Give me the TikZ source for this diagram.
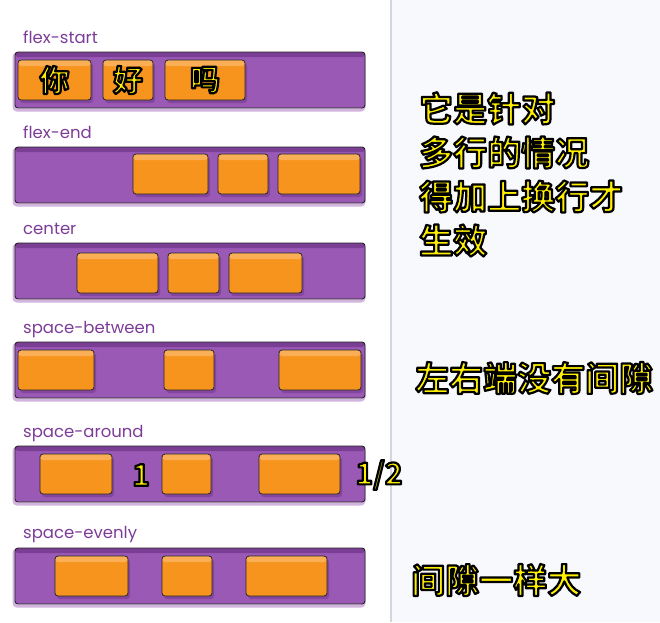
\documentclass[tikz,border=0pt]{standalone}
\usepackage{fontspec}
\setmainfont{Poppins}
\newfontfamily\cjk[BoldFont={Noto Sans CJK SC Bold}]{Noto Sans CJK SC}
\usetikzlibrary{calc}

\definecolor{barpurple}{HTML}{9B59B6}
\definecolor{bardark}{HTML}{7A3E94}
\definecolor{labelpurple}{HTML}{7D3C98}
\definecolor{itemorange}{HTML}{F7941D}
\definecolor{itemlight}{HTML}{FAAE55}
\definecolor{notebg}{HTML}{F8F9FC}
\definecolor{noteline}{HTML}{D3D6DE}
\definecolor{noteyellow}{HTML}{FFF000}

\tikzset{
  flexbar/.style={draw=black!85, line width=0.9pt, fill=barpurple, rounded corners=3pt,
    minimum width=350pt, minimum height=56pt, inner sep=0pt,
    preaction={draw=barpurple!75, line width=3pt, opacity=0.6,
      transform canvas={shift={(-1pt,-2pt)}}},
    path picture={\fill[bardark] (path picture bounding box.north west)
      rectangle ([yshift=-5pt]path picture bounding box.north east);}},
  flexitem/.style={draw=black!85, line width=0.8pt, fill=itemorange, rounded corners=3pt,
    minimum height=40pt, inner sep=0pt,
    preaction={fill=bardark, opacity=0.7, transform canvas={shift={(2pt,-3pt)}}},
    path picture={\fill[itemlight] (path picture bounding box.north west)
      rectangle ([yshift=-6pt]path picture bounding box.north east);}},
  flexlabel/.style={text=labelpurple, font=\fontsize{16.5}{16.5}\selectfont, inner sep=0pt},
  yellowtext/.style={text=noteyellow, inner sep=0pt}
}
\def\barnode{\node[flexbar]}
\def\itemnode{\node[flexitem]}
% yellow letters with a black rim (fill and stroke in one go)
\newcommand{\hl}[1]{\special{pdf:literal 2 Tr 2.2 w 1 j 0 0 0 RG}#1\special{pdf:literal 0 Tr}}

\begin{document}
\begin{tikzpicture}[x=1pt,y=-1pt]
\useasboundingbox (0,0) rectangle (660,622);
\fill[white] (0,0) rectangle (391,622);
\fill[notebg] (391,0) rectangle (660,622);
\draw[noteline, line width=1.2pt] (391,0) -- (391,622);

% -------- flex-start ---------
\node[flexlabel, anchor=base west] (lblstart) at (23,43) {flex-start};
\barnode (barstart) at (190,80) {};
\itemnode[minimum width=73pt] (s1) at (54.5,80) {};
\itemnode[minimum width=50pt] (s2) at (128,80) {};
\itemnode[minimum width=80pt] (s3) at (205,80) {};
\node[yellowtext, font=\cjk\bfseries\fontsize{30}{30}\selectfont] at (s1) {\hl{你}};
\node[yellowtext, font=\cjk\bfseries\fontsize{30}{30}\selectfont] at (s2) {\hl{好}};
\node[yellowtext, font=\cjk\bfseries\fontsize{30}{30}\selectfont] at (s3) {\hl{吗}};

% -------- flex-end ---------
\node[flexlabel, anchor=base west] (lblend) at (23,138) {flex-end};
\barnode (barend) at (190,175) {};
\itemnode[minimum width=75pt] (e1) at (170.5,174) {};
\itemnode[minimum width=50pt] (e2) at (243,174) {};
\itemnode[minimum width=82pt] (e3) at (319,174) {};

% -------- center ---------
\node[flexlabel, anchor=base west] (lblcenter) at (23,234) {center};
\barnode (barcenter) at (190,271) {};
\itemnode[minimum width=81pt] (c1) at (117.5,273) {};
\itemnode[minimum width=51pt] (c2) at (193.5,273) {};
\itemnode[minimum width=73pt] (c3) at (265.5,273) {};

% -------- space-between ---------
\node[flexlabel, anchor=base west] (lblbetween) at (23,333) {space-between};
\barnode (barbetween) at (190,370) {};
\itemnode[minimum width=76pt] (b1) at (56,370) {};
\itemnode[minimum width=50pt] (b2) at (189,370) {};
\itemnode[minimum width=82pt] (b3) at (320,370) {};
\node[yellowtext, anchor=west, font=\cjk\bfseries\fontsize{34}{34}\selectfont]
  (notebetween) at (415,378) {\hl{左右端没有间隙}};

% -------- space-around ---------
\node[flexlabel, anchor=base west] (lblaround) at (23,437) {space-around};
\barnode (bararound) at (190,474) {};
\itemnode[minimum width=72pt] (a1) at (76,474) {};
\itemnode[minimum width=49pt] (a2) at (186.5,474) {};
\itemnode[minimum width=81pt] (a3) at (299.5,474) {};
\node[yellowtext, font=\cjk\bfseries\fontsize{30}{30}\selectfont] (gapone) at (141,475) {\hl{1}};
\node[yellowtext, font=\cjk\bfseries\fontsize{30}{30}\selectfont] (gaphalf) at (379,475) {\hl{1/2}};

% -------- space-evenly ---------
\node[flexlabel, anchor=base west] (lblevenly) at (23,538) {space-evenly};
\barnode (barevenly) at (190,576) {};
\itemnode[minimum width=73pt] (v1) at (91.5,576) {};
\itemnode[minimum width=50pt] (v2) at (187,576) {};
\itemnode[minimum width=81pt] (v3) at (286.5,576) {};
\node[yellowtext, anchor=west, font=\cjk\bfseries\fontsize{34}{34}\selectfont]
  (noteevenly) at (411,580) {\hl{间隙一样大}};

% the note next to the first rows
\node[yellowtext, anchor=north west, align=left, font=\cjk\bfseries\fontsize{34}{44}\selectfont]
  (notestart) at (419,92) {\hl{它是针对}\\\hl{多行的情况}\\\hl{得加上换行才}\\\hl{生效}};
\end{tikzpicture}
\end{document}
